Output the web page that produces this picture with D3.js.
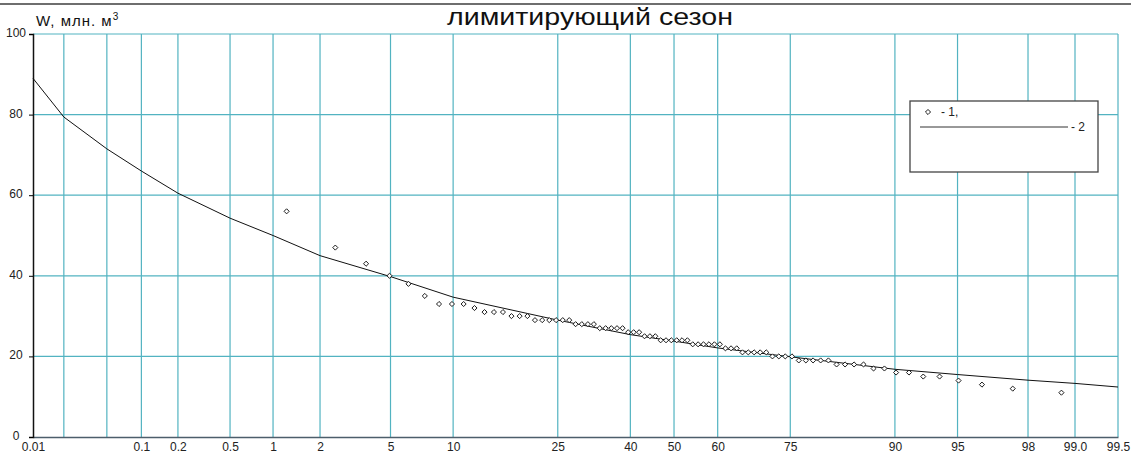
<!DOCTYPE html>
<html>
<head>
<meta charset="utf-8" />
<script src="https://d3js.org/d3.v7.min.js"></script>
<style>
  body { margin: 0; background: #fff; }
  svg { display: block; font-family: "Liberation Sans", Arial, sans-serif; }
</style>
</head>
<body>
<svg id="chart"></svg>
<script>
// exceedance probability grid (%), with labels
var gridP = [0.01, 0.02, 0.05, 0.1, 0.2, 0.5, 1, 2, 5, 10, 25, 40, 50, 60, 75, 90, 95, 98, 99, 99.5];
var gridLabels = ["0.01", "", "", "0.1", "0.2", "0.5", "1", "2", "5", "10", "25", "40", "50", "60", "75", "90", "95", "98", "99.0", "99.5"];
var yTicks = [0, 20, 40, 60, 80, 100];

// observed volumes (series 1) and their plotting positions, %
var obsP = [1.23, 2.47, 3.70, 4.94, 6.17, 7.41, 8.64, 9.88, 11.11, 12.35,
  13.58, 14.81, 16.05, 17.28, 18.52, 19.75, 20.99, 22.22, 23.46, 24.69,
  25.93, 27.16, 28.40, 29.63, 30.86, 32.10, 33.33, 34.57, 35.80, 37.04,
  38.27, 39.51, 40.74, 41.98, 43.21, 44.44, 45.68, 46.91, 48.15, 49.38,
  50.62, 51.85, 53.09, 54.32, 55.56, 56.79, 58.02, 59.26, 60.49, 61.73,
  62.96, 64.20, 65.43, 66.67, 67.90, 69.14, 70.37, 71.60, 72.84, 74.07,
  75.31, 76.54, 77.78, 79.01, 80.25, 81.48, 82.72, 83.95, 85.19, 86.42,
  87.65, 88.89, 90.12, 91.36, 92.59, 93.83, 95.06, 96.30, 97.53, 98.77];
var obsW = [56, 47, 43, 40, 38, 35, 33, 33, 33, 32,
  31, 31, 31, 30, 30, 30, 29, 29, 29, 29,
  29, 29, 28, 28, 28, 28, 27, 27, 27, 27,
  27, 26, 26, 26, 25, 25, 25, 24, 24, 24,
  24, 24, 24, 23, 23, 23, 23, 23, 23, 22,
  22, 22, 21, 21, 21, 21, 21, 20, 20, 20,
  20, 19, 19, 19, 19, 19, 18, 18, 18, 18,
  17, 17, 16, 16, 15, 15, 14, 13, 12, 11];

// fitted curve (series 2)
var curveP = [0.01, 0.02, 0.05, 0.1, 0.2, 0.5, 1, 2, 5, 10, 25, 40, 50, 60, 75, 90, 95, 98, 99, 99.5];
var curveW = [89, 79.4, 71.5, 66, 60.5, 54.3, 50, 45, 39.8, 34.7, 29, 25.4, 23.8, 22.1, 19.9, 16.8, 15.5, 14.1, 13.3, 12.4];

var width = 1131, height = 453;
var plotL = 33, plotR = 1118, plotT = 34, plotB = 437;

// inverse normal CDF (Acklam)
function probit(p) {
  var a = [-3.969683028665376e+01, 2.209460984245205e+02, -2.759285104469687e+02, 1.383577518672690e+02, -3.066479806614716e+01, 2.506628277459239e+00];
  var b = [-5.447609879822406e+01, 1.615858368580409e+02, -1.556989798598866e+02, 6.680131188771972e+01, -1.328068155288572e+01];
  var c = [-7.784894002430293e-03, -3.223964580411365e-01, -2.400758277161838e+00, -2.549732539343734e+00, 4.374664141464968e+00, 2.938163982698783e+00];
  var d = [7.784695709041462e-03, 3.224671290700398e-01, 2.445134137142996e+00, 3.754408661907416e+00];
  var pl = 0.02425, q, r;
  if (p < pl) {
    q = Math.sqrt(-2 * Math.log(p));
    return (((((c[0]*q+c[1])*q+c[2])*q+c[3])*q+c[4])*q+c[5]) / ((((d[0]*q+d[1])*q+d[2])*q+d[3])*q+1);
  }
  if (p <= 1 - pl) {
    q = p - 0.5; r = q * q;
    return (((((a[0]*r+a[1])*r+a[2])*r+a[3])*r+a[4])*r+a[5])*q / (((((b[0]*r+b[1])*r+b[2])*r+b[3])*r+b[4])*r+1);
  }
  q = Math.sqrt(-2 * Math.log(1 - p));
  return -(((((c[0]*q+c[1])*q+c[2])*q+c[3])*q+c[4])*q+c[5]) / ((((d[0]*q+d[1])*q+d[2])*q+d[3])*q+1);
}

var svg = d3.select("#chart").attr("width", width).attr("height", height);

var x = d3.scaleLinear()
  .domain([probit(0.0001), probit(0.995)])
  .range([plotL, plotR]);
var px = function (p) { return x(probit(p / 100)); };

var y = d3.scaleLinear().domain([0, 100]).range([plotB, plotT]);

// top frame line
svg.append("line")
  .attr("x1", 0).attr("x2", width).attr("y1", 4).attr("y2", 4)
  .attr("stroke", "#6e6e6e").attr("stroke-width", 2);

// grid
var gridColor = "#52b3c1";
svg.append("g").selectAll("line")
  .data(gridP.slice(1))
  .join("line")
  .attr("x1", d => px(d)).attr("x2", d => px(d))
  .attr("y1", plotT).attr("y2", plotB)
  .attr("stroke", gridColor).attr("stroke-width", 1.2);

svg.append("g").selectAll("line")
  .data(yTicks.slice(1))
  .join("line")
  .attr("x1", plotL).attr("x2", plotR)
  .attr("y1", d => y(d)).attr("y2", d => y(d))
  .attr("stroke", gridColor).attr("stroke-width", 1.2);

// axes
var xAxis = d3.axisBottom(x)
  .tickValues(gridP.map(p => probit(p / 100)))
  .tickFormat((d, i) => gridLabels[i])
  .tickSize(0).tickPadding(5);
var gx = svg.append("g").attr("transform", "translate(0," + plotB + ")").call(xAxis);
gx.select(".domain").attr("stroke", "#4d5e6b").attr("stroke-width", 1.5);
gx.selectAll("text").attr("font-size", 12).attr("fill", "#222")
  .attr("font-family", "Liberation Sans, Arial, sans-serif");

var yAxis = d3.axisLeft(y).tickValues(yTicks).tickSize(4).tickPadding(3);
var gy = svg.append("g").attr("transform", "translate(" + plotL + ",0)").call(yAxis);
gy.select(".domain").attr("stroke", "#111").attr("stroke-width", 1.5);
gy.selectAll("text").attr("font-size", 12).attr("fill", "#222")
  .attr("text-anchor", "middle").attr("x", -17).attr("dy", "0.2em")
  .attr("font-family", "Liberation Sans, Arial, sans-serif");

// fitted curve
svg.append("path")
  .datum(curveP.map((p, i) => [p, curveW[i]]))
  .attr("fill", "none").attr("stroke", "#111").attr("stroke-width", 1)
  .attr("d", d3.line().x(d => px(d[0])).y(d => y(d[1])));

// observed points as small diamonds
var diamond = d3.symbol().type(d3.symbolSquare).size(13);
svg.append("g").selectAll("path")
  .data(obsP.map((p, i) => [p, obsW[i]]))
  .join("path")
  .attr("d", diamond)
  .attr("transform", d => "translate(" + px(d[0]) + "," + y(d[1]) + ") rotate(45)")
  .attr("fill", "#fff").attr("stroke", "#111").attr("stroke-width", 0.9);

// titles
svg.append("text")
  .attr("x", 447).attr("y", 25)
  .attr("font-size", 23).attr("fill", "#111")
  .attr("textLength", 286).attr("lengthAdjust", "spacingAndGlyphs")
  .text("лимитирующий сезон");

var yl = svg.append("text").attr("x", 36).attr("y", 26).attr("font-size", 15)
  .attr("letter-spacing", 1).attr("fill", "#111");
yl.append("tspan").text("W, млн. м");
yl.append("tspan").attr("font-size", 10).attr("dy", -6).attr("letter-spacing", 0).text("3");

// legend
var lg = svg.append("g");
lg.append("rect").attr("x", 910).attr("y", 101).attr("width", 188).attr("height", 71)
  .attr("fill", "#fff").attr("stroke", "#444").attr("stroke-width", 1.3);
lg.append("path").attr("d", diamond)
  .attr("transform", "translate(928,112) rotate(45)")
  .attr("fill", "#fff").attr("stroke", "#111").attr("stroke-width", 0.9);
lg.append("text").attr("x", 941).attr("y", 116).attr("font-size", 12).attr("fill", "#222").text("- 1,");
lg.append("line").attr("x1", 920).attr("x2", 1068).attr("y1", 127).attr("y2", 127)
  .attr("stroke", "#333").attr("stroke-width", 1);
lg.append("text").attr("x", 1071).attr("y", 131).attr("font-size", 12).attr("fill", "#222").text("- 2");
</script>
</body>
</html>
